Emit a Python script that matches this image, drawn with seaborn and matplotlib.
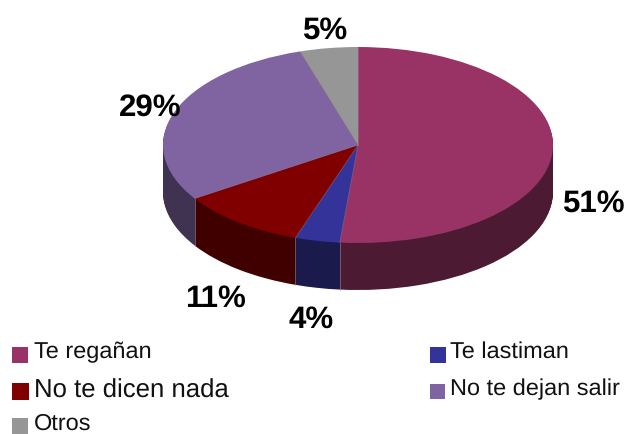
import math

import matplotlib
matplotlib.use("Agg")
import matplotlib.pyplot as plt
import matplotlib.transforms as mtrans
import seaborn as sns

CATEGORIES = ["Te regañan", "Te lastiman", "No te dicen nada", "No te dejan salir", "Otros"]
VALUES = [51.49, 3.71, 10.6, 29.4, 4.8]
PCT_LABELS = ["51%", "4%", "11%", "29%", "5%"]
TOP_COLORS = ["#993366", "#333399", "#800000", "#8064A2", "#969696"]
SIDE_COLORS = ["#4D1A33", "#1A1A4D", "#400000", "#403251", "#4B4B4B"]

sns.set_theme(style="white")
plt.rcParams["font.family"] = ["Liberation Sans", "DejaVu Sans"]
plt.rcParams["text.hinting"] = "none"

W, H = 625, 434
fig = plt.figure(figsize=(W / 100, H / 100), dpi=100)
ax = fig.add_axes([0, 0, 1, 1])

# pixel-sized data space, the pie gets squashed into an ellipse below
CENTER = (358, H - 145)
RX, RY, DEPTH = 195, 98, 47


def draw_pie(colors, offset, z):
    wedges, _ = ax.pie(VALUES, colors=colors, startangle=90, counterclock=False,
                       center=(CENTER[0], CENTER[1] - offset), radius=RX,
                       frame=True, wedgeprops={"linewidth": 0})
    for w in wedges:
        w.set_zorder(z)
    return wedges


for d in range(DEPTH, 0, -1):
    draw_pie(SIDE_COLORS, d, 2 + (DEPTH - d) * 0.01)
draw_pie(TOP_COLORS, 0, 3)

for p in ax.patches:
    cy = p.center[1]
    p.set_transform(mtrans.Affine2D().translate(0, -cy).scale(1, RY / RX).translate(0, cy) + ax.transData)

# thin seams on the slice boundaries
cum = 0
for v in VALUES:
    cum += v
    theta = 2 * math.pi * cum / sum(VALUES)
    x = CENTER[0] + RX * math.sin(theta)
    y = CENTER[1] + RY * math.cos(theta)
    ax.plot([CENTER[0], x], [CENTER[1], y], color="#9A8A9A", lw=0.5, alpha=0.6, zorder=4)
    if math.cos(theta) < 0:
        ax.plot([x, x], [y, y - DEPTH], color="#8A8A8A", lw=0.6, alpha=0.7, zorder=4)

ax.set_xlim(0, W)
ax.set_ylim(0, H)
ax.set_aspect("auto")
ax.axis("off")

# percentage labels
LABEL_POS = [(593, 204), (311, 320), (215, 299), (150, 108), (325, 31)]
for txt, (x, y) in zip(PCT_LABELS, LABEL_POS):
    ax.text(x, H - y, txt, fontsize=22.5, fontweight="bold", color="black",
            ha="center", va="center", zorder=5)

# hand placed legend, entries have different font sizes in the original
LEGEND_POS = [(12, 347, 16, 352, 16.9), (430, 347, 16, 352, 16.9), (12, 383, 17, 391, 18.5),
              (430, 384, 15, 389, 16.9), (12, 418, 16, 424, 16.9)]
for color, name, (x, y, size, ty, fs) in zip(TOP_COLORS, CATEGORIES, LEGEND_POS):
    ax.add_patch(plt.Rectangle((x, H - y - size), size, size, facecolor=color, edgecolor="none", zorder=5))
    ax.text(x + 22 if x < 100 else 450, H - ty, name, fontsize=fs, color="#111111",
            ha="left", va="center", zorder=5)

fig.savefig("out.png", dpi=100)
